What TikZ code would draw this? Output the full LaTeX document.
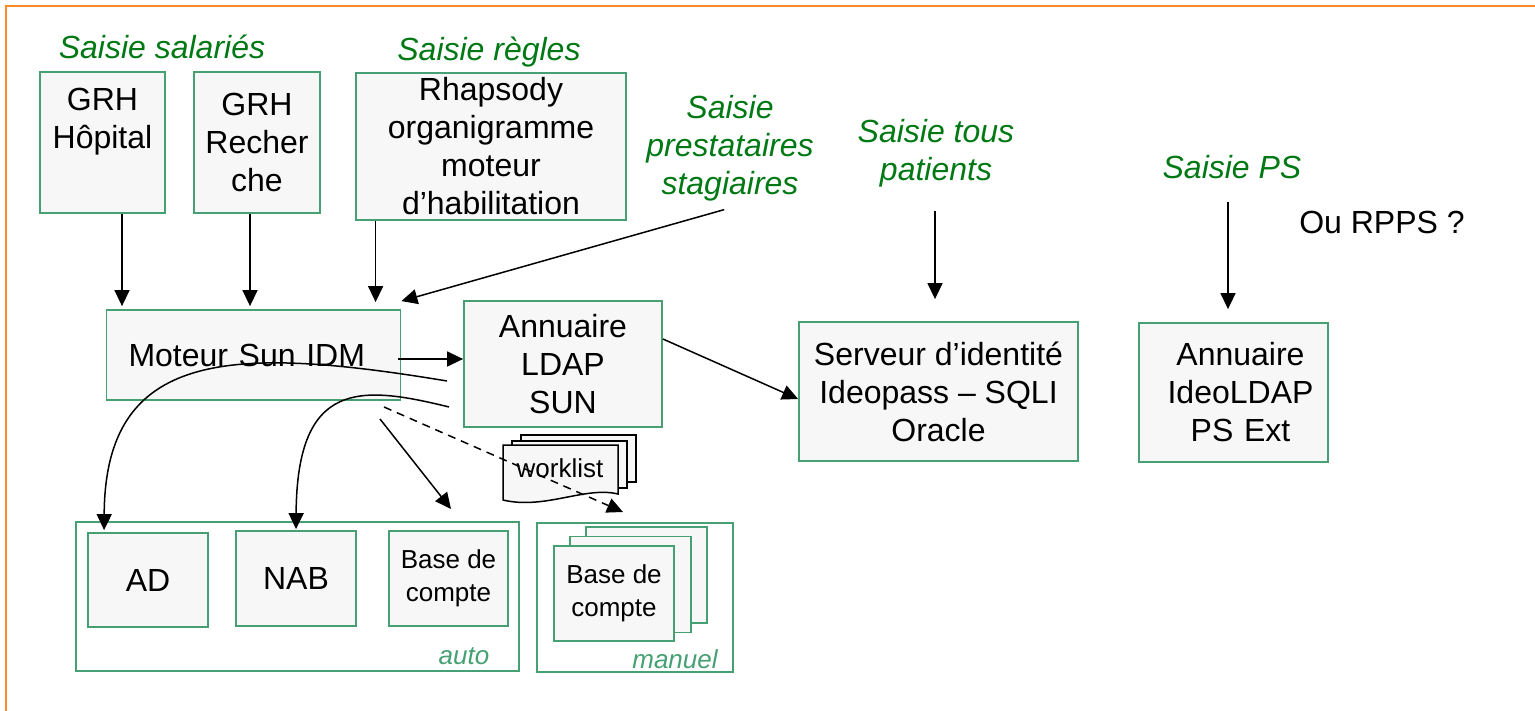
\documentclass[tikz,border=0pt]{standalone}
\usepackage{fontspec}
\setmainfont{Liberation Sans}
\usepackage{tikz}
\usetikzlibrary{arrows.meta}
\definecolor{boxgreen}{RGB}{70,160,115}
\definecolor{saisiegreen}{RGB}{0,120,20}
\definecolor{frameorange}{RGB}{250,140,40}
\definecolor{boxfill}{RGB}{247,247,247}

\begin{document}
\begin{tikzpicture}[x=0.5pt,y=-0.5pt,font=\fontsize{16}{19}\selectfont,
	box/.style={draw=boxgreen,line width=0.9pt,fill=boxfill,align=center,inner sep=0pt},
	small/.style={box,font=\fontsize{13}{16.5}\selectfont},
	group/.style={draw=boxgreen,line width=0.9pt,inner sep=0pt},
	saisie/.style={text=saisiegreen,align=center,font=\fontsize{16}{19}\selectfont\itshape},
	tag/.style={text=boxgreen,font=\fontsize{13}{16}\selectfont\itshape},
	arr/.style={-{Triangle[length=8pt,width=7.5pt]},line width=0.75pt}]
\useasboundingbox (0,0) rectangle (1535,711);
\draw[frameorange, line width=1pt] (6,740) |- (1560,6);

% sources
\node[saisie] (ssal) at (162,47) {Saisie salariés};
\node[box, minimum width=62.5pt, minimum height=70.5pt] (grhh) at (102.5,142.5) {};
\node[align=center] (grhhtxt) at (102.5,121.5) {GRH\\Hôpital};
\node[box, minimum width=63pt, minimum height=70.5pt] (grhr) at (257,142.5) {GRH\\Recher\\che};
\node[saisie] (sregl) at (489,52) {Saisie règles};
\node[box, minimum width=135pt, minimum height=73.5pt] (rhap) at (491,146.5) {Rhapsody\\organigramme\\moteur\\d’habilitation};
\node[saisie] (spresta) at (730,148) {Saisie\\prestataires\\stagiaires};
\node[saisie] (spat) at (936,153.5) {Saisie tous\\patients};
\node[saisie] (sps) at (1232,167) {Saisie PS};
\node (rpps) at (1382,222) {Ou RPPS ?};

% annuaires
\node[box, minimum width=147pt, minimum height=45pt, text width=125pt, align=left, inner xsep=11pt] (moteur) at (253.5,355) {Moteur Sun IDM};
\node[box, minimum width=99pt, minimum height=63pt] (ann) at (563,364) {Annuaire\\LDAP\\SUN};
\node[box, minimum width=139.5pt, minimum height=69.5pt] (serv) at (938.5,391.5) {Serveur d’identité\\Ideopass -- SQLI\\Oracle};
\node[box, minimum width=94.5pt, minimum height=69.5pt, text width=80pt, inner xsep=3.5pt] (ideo) at (1233.5,392.5) {\hspace*{7pt}Annuaire\\\hspace*{7pt}IdeoLDAP\\\hspace*{7pt}PS Ext};

% worklist
\draw[line width=0.75pt, fill=boxfill] (521,435) rectangle (636,482);
\draw[line width=0.75pt, fill=boxfill] (512,441) rectangle (627,488);
\draw[line width=0.75pt, fill=boxfill] (503,445) -- (618,445) -- (618,494) .. controls (585,486) and (545,510) .. (503,500) -- cycle;
\node[font=\fontsize{13}{16}\selectfont] (wl) at (560,468) {worklist};

% cibles
\node[group, minimum width=221.5pt, minimum height=74.5pt] (auto) at (297.5,596.5) {};
\node[tag] (autotag) at (464,656) {auto};
\node[box, minimum width=60pt, minimum height=47pt] (ad) at (148,580) {AD};
\node[box, minimum width=60pt, minimum height=47.5pt] (nab) at (296,578.5) {NAB};
\node[small, minimum width=59.5pt, minimum height=47.5pt] (base) at (448.5,578.5) {Base de\\compte};
\node[group, minimum width=98pt, minimum height=74.5pt] (manuel) at (635,597.5) {};
\node[tag] (manueltag) at (675,659) {manuel};
\node[small, minimum width=60.5pt, minimum height=48pt] (baseb) at (646.5,575) {};
\node[small, minimum width=60.5pt, minimum height=48pt] (basem) at (630.5,584.5) {};
\node[small, minimum width=60pt, minimum height=47.5pt] (basef) at (614,593.5) {Base de\\compte};

\coordinate (c1) at (447,381);
\coordinate (c2) at (449,407);
\coordinate (c3) at (380,419);
\coordinate (c4) at (451,509);
\coordinate (c5) at (384,407);
\coordinate (c6) at (623,512);

\draw[arr, shorten >=1.5pt] ([xshift=9.75pt]grhh.south) -- ([xshift=9.75pt]grhh.south |- moteur.north);
\draw[arr, shorten >=1.5pt] ([xshift=-3.5pt]grhr.south) -- ([xshift=-3.5pt]grhr.south |- moteur.north);
\draw[arr, shorten >=3.5pt] ([xshift=10.25pt]rhap.south west) -- ([xshift=10.25pt]rhap.south west |- moteur.north);
\draw[arr, shorten <=3pt] (spresta.south) -- ([yshift=4pt]moteur.north east);
\draw[arr, shorten <=8.5pt, shorten >=11pt] ([xshift=-0.5pt]spat.south) -- ([xshift=-0.5pt]spat.south |- serv.north);
\draw[arr, shorten <=8pt, shorten >=6.5pt] ([xshift=-2pt]sps.south) -- ([xshift=-2pt]sps.south |- ideo.north);
\draw[arr, shorten <=-1.5pt] ([yshift=-2pt]moteur.east) -- ([yshift=-2pt]moteur.east -| ann.west);
\draw[arr] ([yshift=12.5pt]ann.east) -- ([yshift=-3.75pt]serv.west);
\draw[arr] (c1) .. controls (230,345) and (105,350) .. ([xshift=8.5pt, yshift=1pt]ad.north west);
\draw[arr] (c2) .. controls (360,385) and (297,380) .. ([yshift=0.5pt]nab.north);
\draw[arr] (c3) -- (c4);
\draw[arr, dash pattern=on 4pt off 3pt] (c5) -- (c6);
\end{tikzpicture}
\end{document}
